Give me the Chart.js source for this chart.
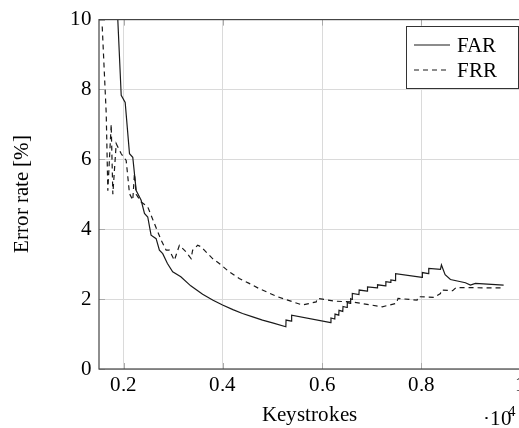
<!DOCTYPE html>
<html>
<head>
<meta charset="utf-8">
<script src="https://cdn.jsdelivr.net/npm/chart.js@4/dist/chart.umd.min.js"></script>
<style>
  @font-face {
    font-family: 'PlotSerif';
    src: local('Liberation Serif'), local('LiberationSerif'), local('LiberationSerif-Regular'),
         local('DejaVu Serif'), local('DejaVuSerif');
  }
  html, body { margin: 0; padding: 0; overflow: hidden; background: #fff; }
  #wrap { width: 530px; height: 428px; font-family: 'PlotSerif', 'Liberation Serif', serif; }
</style>
</head>
<body>
<div id="wrap"><canvas id="chart" width="530" height="428"></canvas></div>
<script>
// FAR (solid)
const farX = [1860, 1948, 2028, 2115, 2181, 2250, 2350, 2417, 2483, 2550, 2652, 2718, 2785, 2880, 2986,
    3150, 3350, 3590, 3800, 3992, 4200, 4394, 4600, 4797, 5000, 5268, 5272, 5380, 5385,
    6173, 6178, 6255, 6260, 6335, 6340, 6416, 6421, 6502, 6507, 6570, 6575, 6603, 6608,
    6742, 6747, 6910, 6915, 7112, 7117, 7280, 7285, 7381, 7386, 7476, 7481,
    8016, 8021, 8145, 8150, 8386, 8406, 8440, 8480, 8587, 8889, 8990, 9090, 9660];
const farY = [10.6, 7.83, 7.63, 6.16, 6.06, 5.11, 4.83, 4.45, 4.35, 3.83, 3.73, 3.40, 3.30, 3.02, 2.78,
    2.64, 2.38, 2.14, 1.97, 1.83, 1.70, 1.59, 1.49, 1.40, 1.32, 1.21, 1.40, 1.37, 1.54,
    1.33, 1.46, 1.43, 1.57, 1.54, 1.68, 1.65, 1.79, 1.76, 1.90, 1.88, 2.01, 1.99, 2.16,
    2.13, 2.26, 2.23, 2.35, 2.32, 2.41, 2.38, 2.50, 2.48, 2.55, 2.53, 2.73,
    2.62, 2.76, 2.73, 2.88, 2.85, 2.98, 2.85, 2.70, 2.56, 2.47, 2.40, 2.45, 2.40];

// FRR (dashed)
const frrX = [1565, 1646, 1678, 1746, 1779, 1847, 1948, 2048, 2115, 2181, 2215, 2250, 2350, 2483,
    2618, 2753, 2854, 2919, 3020, 3121, 3256, 3356, 3388, 3489, 3557, 3624, 3791, 3926,
    4127, 4328, 4529, 4730, 5099, 5602, 5880, 5903, 6274, 6608, 7211, 7500, 7530,
    7915, 7935, 8252, 8386, 8400, 8632, 8700, 9660];
const frrY = [9.8, 7.3, 5.1, 7.0, 5.0, 6.45, 6.16, 5.97, 5.02, 4.83, 5.59, 5.0, 4.78, 4.64,
    4.16, 3.69, 3.40, 3.40, 3.11, 3.54, 3.35, 3.16, 3.40, 3.54, 3.50, 3.40, 3.16, 3.02,
    2.78, 2.59, 2.45, 2.30, 2.07, 1.83, 1.92, 2.02, 1.94, 1.92, 1.78, 1.88, 2.02,
    1.97, 2.07, 2.05, 2.16, 2.26, 2.24, 2.33, 2.32];

const xTicks = [2000, 4000, 6000, 8000, 10000];
const yTicks = [0, 2, 4, 6, 8, 10];

const FONT = "PlotSerif, 'Liberation Serif', 'DejaVu Serif', 'Times New Roman', serif";
const INK = '#1a1a1a';
const FRR_DASH = [5, 4];

function pts(xs, ys) {
    return xs.map((x, i) => ({ x, y: ys[i] }));
}

// frame, inner tick marks, legend box and the ·10^4 multiplier
const decorations = {
    id: 'decorations',
    afterDatasetsDraw(chart) {
        const { ctx, chartArea: a, scales } = chart;
        ctx.save();
        ctx.strokeStyle = '#aaa';
        ctx.lineWidth = 1;
        ctx.beginPath();
        xTicks.forEach(v => {
            const px = Math.round(scales.x.getPixelForValue(v)) + 0.5;
            ctx.moveTo(px, a.bottom); ctx.lineTo(px, a.bottom - 6);
            ctx.moveTo(px, a.top); ctx.lineTo(px, a.top + 6);
        });
        yTicks.forEach(v => {
            const py = Math.round(scales.y.getPixelForValue(v)) + 0.5;
            ctx.moveTo(a.left, py); ctx.lineTo(a.left + 6, py);
        });
        ctx.stroke();

        ctx.strokeStyle = '#444';
        ctx.lineWidth = 1.2;
        ctx.strokeRect(a.left, a.top, a.right - a.left, a.bottom - a.top);

        // legend
        ctx.fillStyle = '#fff';
        ctx.fillRect(406.5, 26.5, 112, 62);
        ctx.strokeStyle = '#333';
        ctx.lineWidth = 1;
        ctx.strokeRect(406.5, 26.5, 112, 62);
        const rows = [45, 70];
        chart.data.datasets.forEach((ds, i) => {
            ctx.beginPath();
            ctx.strokeStyle = INK;
            ctx.lineWidth = 1.2;
            ctx.setLineDash(ds.borderDash || []);
            ctx.moveTo(414, rows[i]);
            ctx.lineTo(450, rows[i]);
            ctx.stroke();
            ctx.setLineDash([]);
            ctx.fillStyle = '#000';
            ctx.font = '21px ' + FONT;
            ctx.textBaseline = 'alphabetic';
            ctx.textAlign = 'left';
            ctx.fillText(ds.label, 457, rows[i] + 7);
        });

        // ·10^4
        ctx.fillStyle = '#000';
        ctx.font = '21px ' + FONT;
        ctx.fillText('\u00b710', 483, 425);
        ctx.font = '15px ' + FONT;
        ctx.fillText('4', 508, 416);
        ctx.restore();
    }
};

function draw() {
    new Chart(document.getElementById('chart').getContext('2d'), {
        type: 'scatter',
        data: {
            datasets: [
                {
                    label: 'FAR',
                    data: pts(farX, farY),
                    showLine: true,
                    borderColor: INK,
                    borderWidth: 1.2,
                    pointRadius: 0,
                    tension: 0,
                },
                {
                    label: 'FRR',
                    data: pts(frrX, frrY),
                    showLine: true,
                    borderColor: INK,
                    borderWidth: 1.2,
                    borderDash: FRR_DASH,
                    pointRadius: 0,
                    tension: 0,
                },
            ],
        },
        options: {
            responsive: false,
            animation: false,
            layout: { padding: { top: 19, right: 9, left: 0, bottom: 0 } },
            plugins: { legend: { display: false }, tooltip: { enabled: false } },
            scales: {
                x: {
                    type: 'linear',
                    min: 1500,
                    max: 10000,
                    afterBuildTicks: s => { s.ticks = xTicks.map(v => ({ value: v })); },
                    afterFit: s => { s.height = 59; },
                    ticks: {
                        color: '#000',
                        font: { family: FONT, size: 21 },
                        padding: 4,
                        maxRotation: 0,
                        callback: v => String(v / 10000),
                    },
                    grid: { color: '#dadada', lineWidth: 1, drawTicks: false },
                    border: { display: false },
                    title: {
                        display: true,
                        text: 'Keystrokes',
                        color: '#000',
                        font: { family: FONT, size: 21 },
                        padding: { top: 0, bottom: 0 },
                    },
                },
                y: {
                    min: 0,
                    max: 10,
                    afterBuildTicks: s => { s.ticks = yTicks.map(v => ({ value: v })); },
                    afterFit: s => { s.width = 99; },
                    ticks: {
                        color: '#000',
                        font: { family: FONT, size: 21 },
                        padding: 7,
                    },
                    grid: { color: '#dadada', lineWidth: 1, drawTicks: false },
                    border: { display: false },
                    title: {
                        display: true,
                        text: 'Error rate [%]',
                        color: '#000',
                        font: { family: FONT, size: 21 },
                        padding: { top: 10, bottom: 0 },
                    },
                },
            },
        },
        plugins: [decorations],
    });
}

document.fonts.load('21px PlotSerif').catch(() => null).then(draw);
</script>
</body>
</html>
